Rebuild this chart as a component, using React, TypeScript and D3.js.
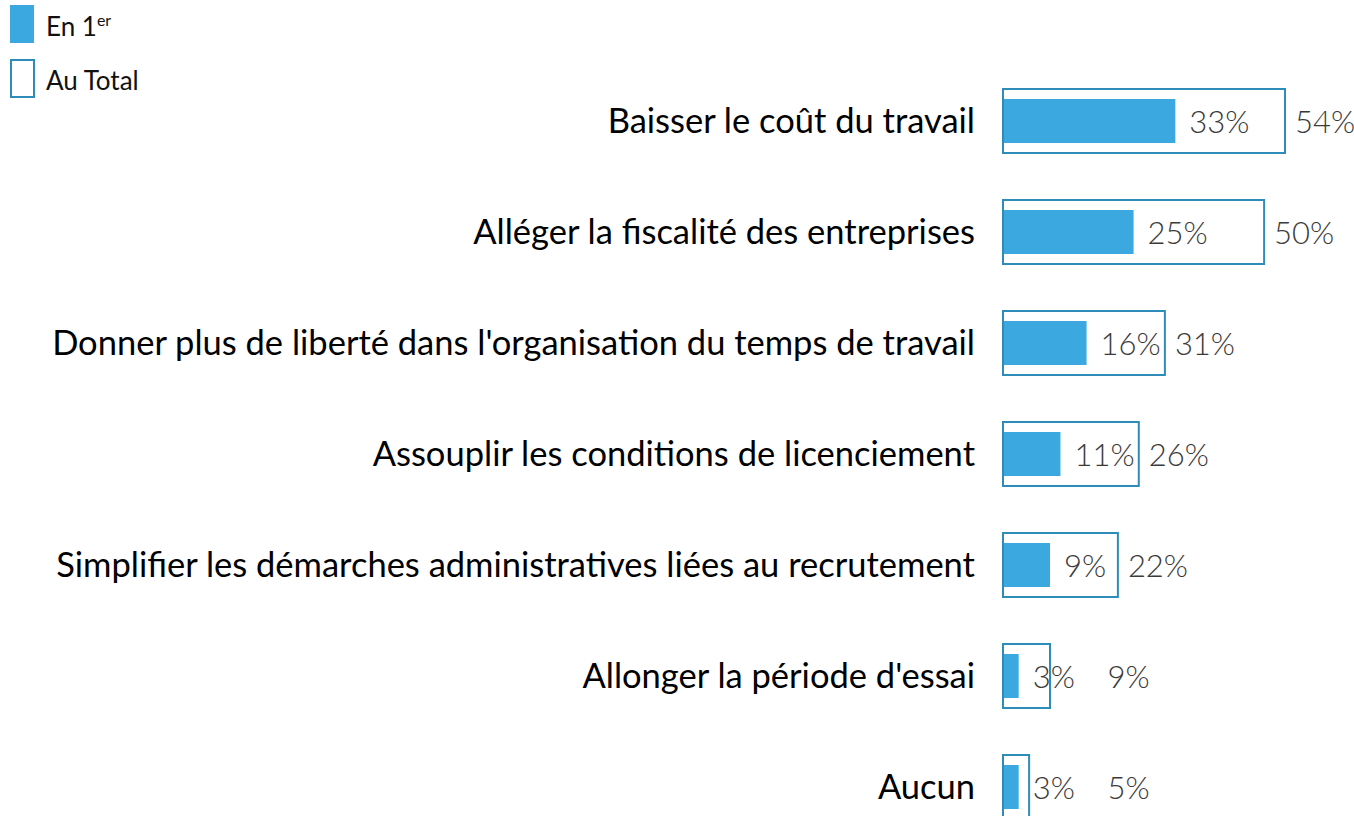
import React from "react";
import { scaleLinear, scalePoint } from "d3";

const categories = [
  "Baisser le coût du travail",
  "Alléger la fiscalité des entreprises",
  "Donner plus de liberté dans l'organisation du temps de travail",
  "Assouplir les conditions de licenciement",
  "Simplifier les démarches administratives liées au recrutement",
  "Allonger la période d'essai",
  "Aucun",
];
const enPremier = [33, 25, 16, 11, 9, 3, 3];
const auTotal = [54, 50, 31, 26, 22, 9, 5];

const FILL = "#3BA8E0";
const STROKE = "#2E8DB8";
const VALUE_FONT = "Lato, 'Open Sans', sans-serif";
const LABEL_FONT = "Lato, 'Noto Sans', sans-serif";

export default function App() {
  const width = 1354;
  const height = 816;

  const x = scaleLinear().domain([0, 54]).range([1003, 1285]);
  const y = scalePoint<string>().domain(categories).range([121, 787]);

  const outerH = 64;
  const innerH = 44;

  return (
    <div style={{ position: "absolute", left: 0, top: 0 }}>
      <svg width={width} height={height} style={{ display: "block", background: "#fff" }}>
        {/* legend */}
        <g>
          <rect x={10} y={5} width={24} height={38} fill={FILL} />
          <text x={46} y={36} fontFamily={LABEL_FONT} fontSize={26} fill="#111">
            En 1<tspan fontSize={16} dy={-10}>er</tspan>
          </text>
          <rect x={11} y={60} width={23} height={37} fill="#fff" stroke={STROKE} strokeWidth={2} />
          <text x={46} y={90} fontFamily={LABEL_FONT} fontSize={26} fill="#111">
            Au Total
          </text>
        </g>

        {categories.map((c, i) => {
          const cy = y(c)!;
          const x0 = x(0);
          const xt = x(auTotal[i]);
          const xf = x(enPremier[i]);
          const totalLabelX = Math.max(xt + 10, x(20));
          return (
            <g key={c}>
              <text
                x={975}
                y={cy + 12}
                textAnchor="end"
                fontFamily={LABEL_FONT}
                fontSize={34.5}
                fill="#000"
              >
                {c}
              </text>
              <rect
                x={x0}
                y={cy - outerH / 2}
                width={xt - x0}
                height={outerH}
                fill="#fff"
                stroke={STROKE}
                strokeWidth={2}
              />
              <rect x={x0 + 1} y={cy - innerH / 2} width={xf - x0 - 1} height={innerH} fill={FILL} />
              <text
                x={xf + 14}
                y={cy + 12}
                fontFamily={VALUE_FONT}
                fontWeight={300}
                fontSize={31}
                fill="#3a3a3a"
              >
                {enPremier[i]}%
              </text>
              <text
                x={totalLabelX}
                y={cy + 12}
                fontFamily={VALUE_FONT}
                fontWeight={300}
                fontSize={31}
                fill="#3a3a3a"
              >
                {auTotal[i]}%
              </text>
            </g>
          );
        })}
      </svg>
    </div>
  );
}
